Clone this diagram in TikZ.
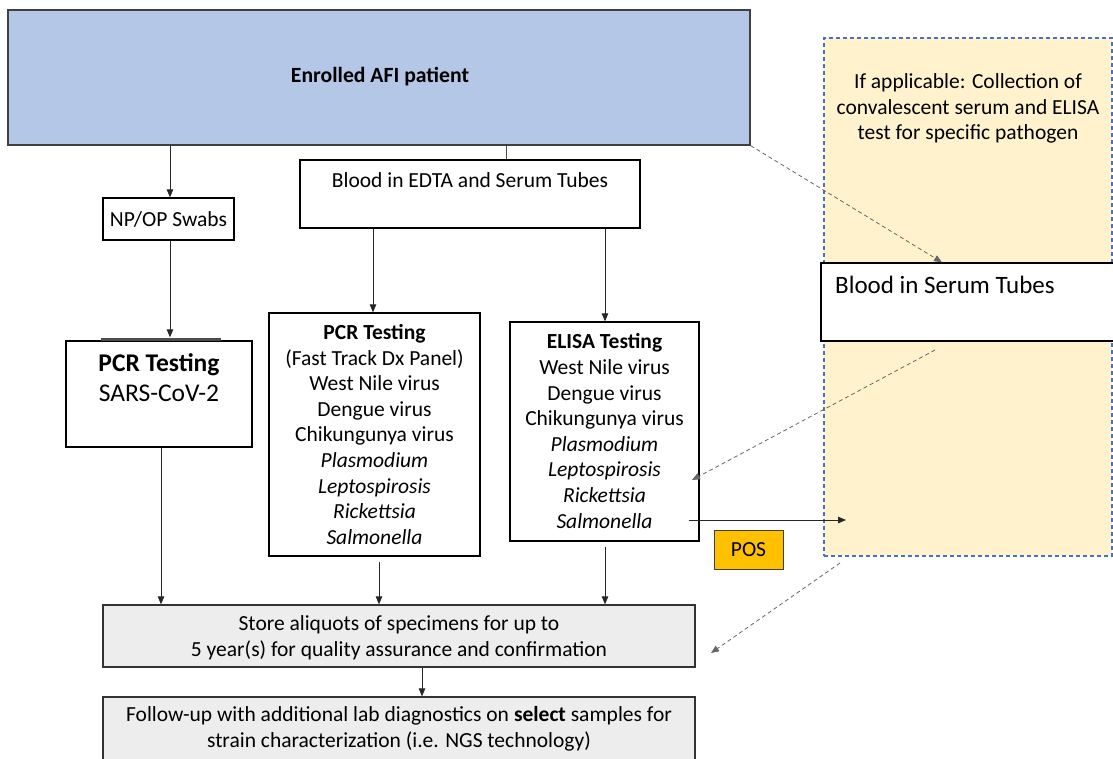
\documentclass[tikz,border=0pt]{standalone}
\usepackage{fontspec}
\setmainfont{Carlito}
\usetikzlibrary{arrows.meta}
\definecolor{blueF}{HTML}{B4C7E7}
\definecolor{yellowF}{HTML}{FFF2CC}
\definecolor{dashblue}{HTML}{4472C4}
\definecolor{grayF}{HTML}{EDEDED}
\definecolor{posF}{HTML}{FFC000}
\begin{document}
\begin{tikzpicture}[x=1pt,y=-1pt,
  box/.style={draw=black, line width=1.3pt, inner sep=0pt},
  txt/.style={font=\fontsize{21.5}{25.6}\selectfont, align=center, inner sep=0pt},
  bigtxt/.style={font=\fontsize{25.5}{30}\selectfont, align=center, inner sep=0pt},
  conn/.style={draw=black!85, line width=0.8pt, -{Triangle[length=8pt,width=6.5pt]}},
  plain/.style={draw=black!70, line width=0.8pt},
  dconn/.style={draw=black!60, line width=0.8pt, dash pattern=on 4pt off 3pt, -{Triangle[length=8pt,width=6.5pt]}}
]
\useasboundingbox (0,0) rectangle (1113,758);

% convalescent (dashed yellow) box
\node[draw=dashblue, fill=yellowF, line width=1.2pt, dash pattern=on 4pt off 3pt,
      minimum width=288, minimum height=518, inner sep=0pt] (conv) at (968,297) {};
\node[txt] (convt) at (968,108.5) {If applicable: Collection of\\convalescent serum and ELISA\\test for specific pathogen};

% top box
\node[box, draw=black!75, fill=blueF, minimum width=742, minimum height=135] (afi) at (379,77.5) {};
\node[txt, font=\fontsize{21.7}{25}\selectfont\bfseries] (afit) at (380,77) {Enrolled AFI patient};

% blood EDTA
\node[box, fill=white, minimum width=340, minimum height=68] (edta) at (470,194) {};
\node[txt] (edtat) at (470,180) {Blood in EDTA and Serum Tubes};

% NP/OP swabs
\node[box, fill=white, minimum width=131, minimum height=42] (np) at (168.5,219) {};
\node[txt] (npt) at (168.5,219) {NP/OP Swabs};

% SARS PCR
\node[box, fill=white, minimum width=186, minimum height=106] (sars) at (159,394) {};
\draw[line width=2.6pt, black!70] (101,339.3) -- (221,339.3);
\node[bigtxt] (sarst) at (159,378) {\textbf{PCR Testing}\\SARS-CoV-2};

% PCR panel
\node[box, fill=white, minimum width=211, minimum height=243] (pcr) at (374.5,434.5) {};
\node[txt] (pcrt) at (374.5,434.5) {\textbf{PCR Testing}\\(Fast Track Dx Panel)\\West Nile virus\\Dengue virus\\Chikungunya virus\\\textit{Plasmodium}\\\textit{Leptospirosis}\\\textit{Rickettsia}\\\textit{Salmonella}};

% ELISA panel
\node[box, fill=white, minimum width=189, minimum height=219] (elisa) at (604.5,431.5) {};
\node[txt] (elisat) at (604.5,431) {\textbf{ELISA Testing}\\West Nile virus\\Dengue virus\\Chikungunya virus\\\textit{Plasmodium}\\\textit{Leptospirosis}\\\textit{Rickettsia}\\\textit{Salmonella}};

% Blood in serum tubes
\node[box, fill=white, minimum width=294, minimum height=78] (serum) at (968,302) {};
\node[inner sep=0pt, anchor=west, font=\fontsize{25}{30}\selectfont] (serumt) at (835,284.5) {Blood in Serum Tubes};

% POS
\node[box, draw=black!75, line width=1pt, fill=posF, minimum width=69, minimum height=39] (pos) at (748.5,549.5) {};
\node[txt] (post) at (748.5,549.5) {POS};

% store
\node[box, draw=black!80, fill=grayF, minimum width=592, minimum height=62] (store) at (399,636) {};
\node[txt] (storet) at (399,637.5) {Store aliquots of specimens for up to\\5 year(s) for quality assurance and confirmation};

% follow-up
\node[box, draw=black!80, fill=grayF, minimum width=592, minimum height=64] (follow) at (399,729) {};
\node[txt] (followt) at (399,729) {Follow-up with additional lab diagnostics on \textbf{select} samples for\\strain characterization (i.e. NGS technology)};

% free ends
\coordinate (d2s) at (935,350);
\coordinate (d2e) at (692,480);
\coordinate (p1s) at (689,520);
\coordinate (p1e) at (846,520);
\coordinate (d3s) at (840,563);
\coordinate (d3e) at (711,653);

% connectors
\draw[plain] ([xshift=127pt]afi.south) -- ([xshift=36pt]edta.north);
\draw[conn] ([xshift=-209pt]afi.south) -- ([xshift=1.5pt]np.north);
\draw[conn] ([xshift=1.5pt]np.south) -- ([xshift=11pt,yshift=3pt]sars.north);
\draw[conn] ([xshift=-97pt]edta.south) -- ([xshift=-1.5pt]pcr.north);
\draw[conn] ([xshift=135pt]edta.south) -- ([xshift=0.5pt]elisa.north);
\draw[conn] ([xshift=2pt]sars.south) -- ([xshift=-238pt]store.north);
\draw[conn] ([xshift=4.5pt,yshift=-5pt]pcr.south) -- ([xshift=-20pt]store.north);
\draw[conn] ([xshift=0.5pt,yshift=-5pt]elisa.south) -- ([xshift=206pt]store.north);
\draw[conn] ([xshift=23pt]store.south) -- ([xshift=23pt]follow.north);
\draw[dconn] (afi.south east) -- ([xshift=-26pt]serum.north);
\draw[dconn] (d2s) -- (d2e);
\draw[conn] (p1s) -- (p1e);
\draw[dconn] (d3s) -- (d3e);
\end{tikzpicture}
\end{document}
